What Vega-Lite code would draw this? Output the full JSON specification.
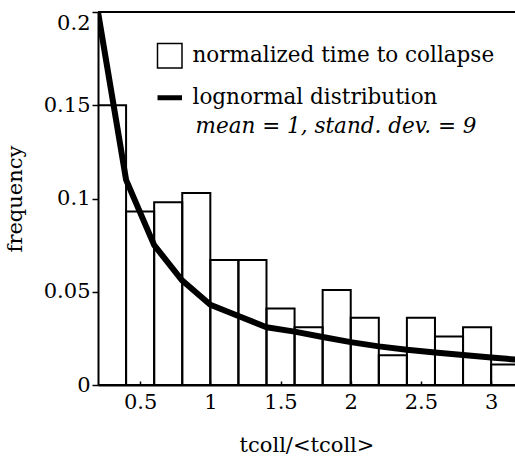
{
  "$schema": "https://vega.github.io/schema/vega-lite/v6.json",
  "width": 417,
  "height": 373,
  "autosize": {"type": "none"},
  "padding": {"left": 98, "top": 12, "right": 0, "bottom": 74},
  "background": "white",
  "config": {
    "view": {"stroke": null},
    "font": "DejaVu Serif",
    "axis": {
      "labelFont": "DejaVu Serif",
      "titleFont": "DejaVu Serif",
      "labelFontSize": 21,
      "titleFontSize": 21,
      "labelColor": "black",
      "titleColor": "black",
      "domainColor": "black",
      "tickColor": "black",
      "grid": false,
      "titleFontWeight": "normal"
    },
    "legend": {
      "labelFont": "DejaVu Serif",
      "labelFontSize": 21.5,
      "labelColor": "black"
    }
  },
  "datasets": {
    "bins": [
      {"start": 0.2, "end": 0.4, "freq": 0.150},
      {"start": 0.4, "end": 0.6, "freq": 0.093},
      {"start": 0.6, "end": 0.8, "freq": 0.098},
      {"start": 0.8, "end": 1.0, "freq": 0.103},
      {"start": 1.0, "end": 1.2, "freq": 0.067},
      {"start": 1.2, "end": 1.4, "freq": 0.067},
      {"start": 1.4, "end": 1.6, "freq": 0.041},
      {"start": 1.6, "end": 1.8, "freq": 0.031},
      {"start": 1.8, "end": 2.0, "freq": 0.051},
      {"start": 2.0, "end": 2.2, "freq": 0.036},
      {"start": 2.2, "end": 2.4, "freq": 0.016},
      {"start": 2.4, "end": 2.6, "freq": 0.036},
      {"start": 2.6, "end": 2.8, "freq": 0.026},
      {"start": 2.8, "end": 3.0, "freq": 0.031},
      {"start": 3.0, "end": 3.2, "freq": 0.011}
    ],
    "curve": [
      {"t": 0.2, "f": 0.2},
      {"t": 0.4, "f": 0.110},
      {"t": 0.6, "f": 0.075},
      {"t": 0.8, "f": 0.056},
      {"t": 1.0, "f": 0.043},
      {"t": 1.2, "f": 0.037},
      {"t": 1.4, "f": 0.031},
      {"t": 1.6, "f": 0.0286},
      {"t": 1.8, "f": 0.0257},
      {"t": 2.0, "f": 0.023},
      {"t": 2.2, "f": 0.0207},
      {"t": 2.4, "f": 0.0189},
      {"t": 2.6, "f": 0.0174},
      {"t": 2.8, "f": 0.0161},
      {"t": 3.0, "f": 0.0147},
      {"t": 3.2, "f": 0.0135}
    ],
    "frame": [
      {"a": 0.2, "b": 3.17, "top": 0.2}
    ],
    "note": [
      {"text": "mean = 1, stand. dev. = 9"}
    ]
  },
  "layer": [
    {
      "data": {"name": "bins"},
      "mark": {"type": "rect", "filled": false, "strokeWidth": 2, "clip": true},
      "encoding": {
        "x": {
          "field": "start", "type": "quantitative",
          "scale": {"domain": [0.2, 3.17], "nice": false, "zero": false},
          "axis": {
            "orient": "bottom",
            "values": [0.5, 1, 1.5, 2, 2.5, 3],
            "format": "~g",
            "tickSize": -4,
            "domainWidth": 2,
            "tickWidth": 1.5,
            "labelPadding": 10,
            "title": "tcoll/<tcoll>",
            "titlePadding": 22
          }
        },
        "x2": {"field": "end"},
        "y": {
          "field": "freq", "type": "quantitative",
          "scale": {"domain": [0, 0.2], "nice": false},
          "axis": {
            "orient": "left",
            "values": [0, 0.05, 0.1, 0.15, 0.2],
            "format": "~g",
            "tickSize": 6,
            "tickWidth": 1.5,
            "domainWidth": 2,
            "labelPadding": 2,
            "labelBaseline": {"condition": {"test": "datum.value == 0.2", "value": "top"}, "value": "middle"},
            "title": "frequency",
            "titlePadding": 18
          }
        },
        "y2": {"datum": 0},
        "color": {
          "datum": "normalized time to collapse",
          "scale": {
            "domain": ["normalized time to collapse", "lognormal distribution"],
            "range": ["black", "black"]
          },
          "legend": {
            "orient": "none",
            "legendX": 61,
            "legendY": 33,
            "title": null,
            "symbolType": "square",
            "symbolSize": 600,
            "symbolFillColor": "white",
            "symbolStrokeColor": "black",
            "rowPadding": 15,
            "labelOffset": 12,
            "labelLimit": 400,
            "labelFont": "DejaVu Serif",
            "labelFontSize": 21.5,
            "encode": {
              "symbols": {
                "update": {
                  "shape": {"signal": "datum.label == 'lognormal distribution' ? 'stroke' : 'square'"},
                  "strokeWidth": {"signal": "datum.label == 'lognormal distribution' ? 5 : 1.5"},
                  "fill": {"value": "white"},
                  "stroke": {"value": "black"}
                }
              }
            }
          }
        }
      }
    },
    {
      "data": {"name": "curve"},
      "mark": {"type": "line", "strokeWidth": 6, "clip": true, "strokeJoin": "round"},
      "encoding": {
        "x": {"field": "t", "type": "quantitative"},
        "y": {"field": "f", "type": "quantitative"},
        "color": {"datum": "lognormal distribution"}
      }
    },
    {
      "data": {"name": "frame"},
      "mark": {"type": "rule", "strokeWidth": 2, "color": "black"},
      "encoding": {
        "x": {"field": "a", "type": "quantitative"},
        "x2": {"field": "b"},
        "y": {"field": "top", "type": "quantitative"}
      }
    },
    {
      "data": {"name": "note"},
      "mark": {"type": "text", "font": "DejaVu Serif", "fontSize": 21.5, "fontStyle": "italic", "align": "left", "baseline": "middle", "color": "black"},
      "encoding": {
        "x": {"datum": 0.895, "type": "quantitative"},
        "y": {"datum": 0.1385, "type": "quantitative"},
        "text": {"field": "text"}
      }
    }
  ]
}
